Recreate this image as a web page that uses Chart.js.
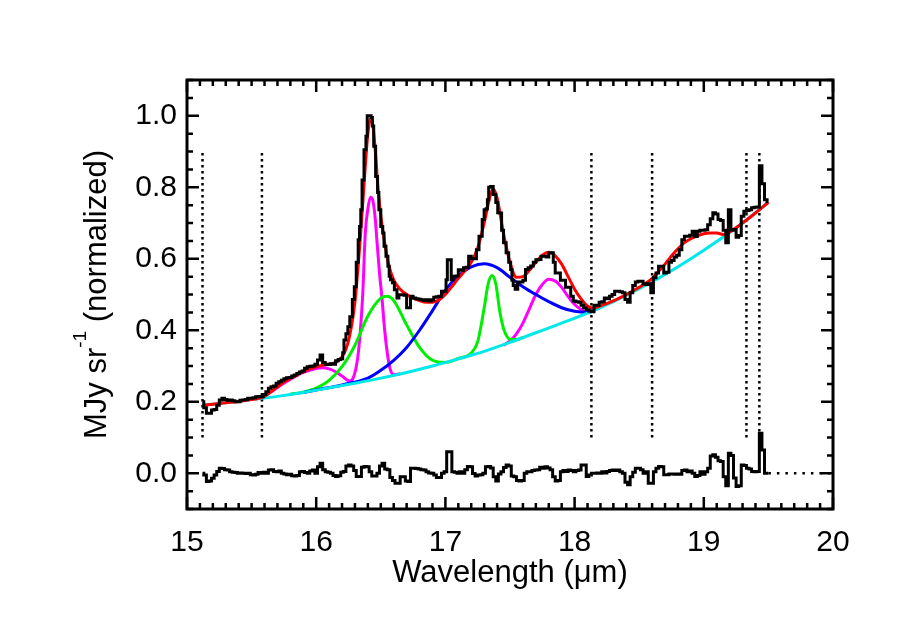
<!DOCTYPE html>
<html>
<head>
<meta charset="utf-8">
<script src="https://cdn.jsdelivr.net/npm/chart.js@4.4.0/dist/chart.umd.min.js"></script>
<style>
  html, body { margin: 0; padding: 0; background: #fff; }
  #wrap { width: 900px; height: 643px; }
</style>
</head>
<body>
<div id="wrap"><canvas id="chartCanvas" width="900" height="643"></canvas></div>
<script>
// Ticks y rótulos
const xTicks = [15, 16, 17, 18, 19, 20];
const yTicks = [0.0, 0.2, 0.4, 0.6, 0.8, 1.0];
const xTitulo = 'Wavelength (\u03bcm)';
const yTituloBase = 'MJy sr';
const yTituloSup = '-1';
const yTituloResto = ' (normalized)';

// Espectro observado
const wlSpec = [
  15.12, 15.14, 15.16, 15.18, 15.20, 15.22, 15.24, 15.26, 15.28, 15.30,
  15.32, 15.34, 15.36, 15.38, 15.40, 15.42, 15.44, 15.46, 15.48, 15.50,
  15.52, 15.54, 15.56, 15.58, 15.60, 15.62, 15.64, 15.66, 15.68, 15.70,
  15.72, 15.74, 15.76, 15.78, 15.80, 15.82, 15.84, 15.86, 15.88, 15.90,
  15.92, 15.94, 15.96, 15.98, 16.00, 16.02, 16.04, 16.06, 16.08, 16.10,
  16.12, 16.14, 16.16, 16.18, 16.20, 16.21, 16.22, 16.24, 16.25, 16.27,
  16.29, 16.30, 16.32, 16.33, 16.34, 16.35, 16.36, 16.38, 16.39, 16.40,
  16.42, 16.43, 16.44, 16.45, 16.47, 16.48, 16.49, 16.51, 16.52, 16.53,
  16.55, 16.56, 16.57, 16.58, 16.60, 16.61, 16.62, 16.63, 16.65, 16.67,
  16.69, 16.71, 16.72, 16.74, 16.76, 16.78, 16.80, 16.82, 16.84, 16.86,
  16.88, 16.90, 16.92, 16.94, 16.96, 16.98, 17.00, 17.01, 17.02, 17.04,
  17.05, 17.07, 17.09, 17.11, 17.13, 17.15, 17.17, 17.19, 17.21, 17.23,
  17.25, 17.27, 17.28, 17.29, 17.31, 17.32, 17.33, 17.34, 17.36, 17.38,
  17.40, 17.41, 17.43, 17.44, 17.46, 17.48, 17.50, 17.51, 17.52, 17.53,
  17.55, 17.57, 17.59, 17.61, 17.63, 17.65, 17.67, 17.69, 17.71, 17.73,
  17.75, 17.77, 17.79, 17.81, 17.83, 17.84, 17.86, 17.88, 17.90, 17.92,
  17.94, 17.96, 17.98, 18.00, 18.02, 18.04, 18.06, 18.08, 18.10, 18.12,
  18.14, 18.16, 18.18, 18.20, 18.22, 18.24, 18.26, 18.28, 18.30, 18.32,
  18.34, 18.36, 18.38, 18.40, 18.42, 18.44, 18.46, 18.48, 18.50, 18.52,
  18.54, 18.56, 18.58, 18.60, 18.62, 18.64, 18.66, 18.68, 18.70, 18.72,
  18.74, 18.76, 18.78, 18.80, 18.82, 18.84, 18.86, 18.88, 18.90, 18.92,
  18.94, 18.96, 18.98, 19.00, 19.02, 19.04, 19.06, 19.08, 19.10, 19.12,
  19.14, 19.16, 19.18, 19.20, 19.22, 19.24, 19.26, 19.28, 19.30, 19.32,
  19.34, 19.36, 19.38, 19.40, 19.42, 19.44, 19.46, 19.48, 19.50
];
const fluxSpec = [
  0.200, 0.183, 0.168, 0.168, 0.177, 0.178, 0.190, 0.205, 0.210, 0.206,
  0.204, 0.205, 0.203, 0.200, 0.200, 0.204, 0.205, 0.206, 0.210, 0.210,
  0.211, 0.214, 0.215, 0.214, 0.220, 0.228, 0.238, 0.242, 0.244, 0.252,
  0.256, 0.260, 0.264, 0.267, 0.268, 0.272, 0.275, 0.279, 0.283, 0.286,
  0.294, 0.298, 0.299, 0.300, 0.305, 0.317, 0.331, 0.310, 0.305, 0.304,
  0.306, 0.305, 0.315, 0.318, 0.320, 0.337, 0.373, 0.390, 0.410, 0.438,
  0.486, 0.522, 0.590, 0.653, 0.690, 0.737, 0.820, 0.905, 0.943, 1.000,
  1.000, 0.995, 0.971, 0.915, 0.830, 0.785, 0.737, 0.690, 0.672, 0.635,
  0.607, 0.579, 0.551, 0.541, 0.533, 0.513, 0.513, 0.490, 0.499, 0.499,
  0.498, 0.463, 0.463, 0.495, 0.490, 0.488, 0.487, 0.485, 0.483, 0.485,
  0.482, 0.485, 0.492, 0.494, 0.495, 0.509, 0.509, 0.541, 0.597, 0.597,
  0.541, 0.551, 0.552, 0.569, 0.568, 0.575, 0.576, 0.607, 0.600, 0.600,
  0.625, 0.663, 0.663, 0.710, 0.737, 0.740, 0.765, 0.800, 0.802, 0.780,
  0.757, 0.729, 0.728, 0.680, 0.645, 0.617, 0.590, 0.570, 0.540, 0.525,
  0.515, 0.535, 0.535, 0.540, 0.570, 0.575, 0.580, 0.590, 0.597, 0.598,
  0.607, 0.607, 0.605, 0.617, 0.617, 0.590, 0.560, 0.560, 0.540, 0.540,
  0.520, 0.520, 0.495, 0.482, 0.480, 0.478, 0.470, 0.463, 0.457, 0.453,
  0.452, 0.470, 0.470, 0.478, 0.480, 0.490, 0.488, 0.495, 0.500, 0.509,
  0.509, 0.508, 0.505, 0.486, 0.478, 0.505, 0.525, 0.535, 0.537, 0.537,
  0.530, 0.528, 0.530, 0.505, 0.547, 0.560, 0.579, 0.579, 0.560, 0.562,
  0.590, 0.595, 0.605, 0.610, 0.625, 0.653, 0.663, 0.663, 0.666, 0.677,
  0.662, 0.677, 0.680, 0.680, 0.681, 0.695, 0.712, 0.729, 0.725, 0.710,
  0.707, 0.680, 0.645, 0.737, 0.680, 0.682, 0.660, 0.665, 0.719, 0.733,
  0.735, 0.737, 0.743, 0.744, 0.745, 0.860, 0.810, 0.765, 0.760
];

// Residuos (espectro - ajuste)
const wlRes = [
  15.12, 15.14, 15.16, 15.18, 15.20, 15.22, 15.24, 15.26, 15.28, 15.30,
  15.32, 15.34, 15.36, 15.38, 15.40, 15.42, 15.44, 15.46, 15.48, 15.50,
  15.52, 15.54, 15.56, 15.58, 15.60, 15.62, 15.64, 15.66, 15.68, 15.70,
  15.72, 15.74, 15.76, 15.78, 15.80, 15.82, 15.84, 15.86, 15.88, 15.90,
  15.92, 15.94, 15.96, 15.98, 16.00, 16.02, 16.04, 16.06, 16.08, 16.10,
  16.12, 16.14, 16.16, 16.18, 16.20, 16.22, 16.24, 16.26, 16.28, 16.30,
  16.32, 16.34, 16.36, 16.38, 16.40, 16.42, 16.44, 16.46, 16.48, 16.50,
  16.52, 16.54, 16.56, 16.58, 16.60, 16.62, 16.64, 16.66, 16.68, 16.70,
  16.72, 16.74, 16.76, 16.78, 16.80, 16.82, 16.84, 16.86, 16.88, 16.90,
  16.92, 16.94, 16.96, 16.98, 17.00, 17.02, 17.04, 17.06, 17.08, 17.10,
  17.12, 17.14, 17.16, 17.18, 17.20, 17.22, 17.24, 17.26, 17.28, 17.30,
  17.32, 17.34, 17.36, 17.38, 17.40, 17.42, 17.44, 17.46, 17.48, 17.50,
  17.52, 17.54, 17.56, 17.58, 17.60, 17.62, 17.64, 17.66, 17.68, 17.70,
  17.72, 17.74, 17.76, 17.78, 17.80, 17.82, 17.84, 17.86, 17.88, 17.90,
  17.92, 17.94, 17.96, 17.98, 18.00, 18.02, 18.04, 18.06, 18.08, 18.10,
  18.12, 18.14, 18.16, 18.18, 18.20, 18.22, 18.24, 18.26, 18.28, 18.30,
  18.32, 18.34, 18.36, 18.38, 18.40, 18.42, 18.44, 18.46, 18.48, 18.50,
  18.52, 18.54, 18.56, 18.58, 18.60, 18.62, 18.64, 18.66, 18.68, 18.70,
  18.72, 18.74, 18.76, 18.78, 18.80, 18.82, 18.84, 18.86, 18.88, 18.90,
  18.92, 18.94, 18.96, 18.98, 19.00, 19.02, 19.04, 19.06, 19.08, 19.10,
  19.12, 19.14, 19.16, 19.18, 19.20, 19.22, 19.24, 19.26, 19.28, 19.30,
  19.32, 19.34, 19.36, 19.38, 19.40, 19.42, 19.44, 19.46, 19.48, 19.50
];
const residuo = [
  0.000, -0.005, -0.023, -0.022, -0.014, -0.005, 0.005, 0.014, 0.013, 0.010,
  0.009, 0.004, 0.003, 0.002, 0.000, 0.001, 0.000, -0.001, 0.000, -0.004,
  -0.005, -0.003, 0.002, 0.000, 0.003, 0.000, 0.009, 0.010, 0.005, 0.004,
  0.006, 0.000, -0.002, -0.004, -0.003, -0.007, -0.008, -0.006, 0.004, 0.005,
  0.002, 0.000, 0.006, 0.009, 0.000, 0.018, 0.028, 0.010, 0.004, 0.003,
  0.000, -0.006, -0.009, -0.007, 0.003, 0.005, 0.020, 0.023, 0.020, 0.008,
  -0.009, -0.009, 0.017, 0.019, 0.018, 0.004, -0.008, -0.008, 0.000, 0.020,
  0.028, 0.012, 0.010, -0.012, -0.020, -0.028, -0.028, -0.010, -0.010, -0.022,
  -0.023, 0.014, 0.014, 0.013, 0.012, 0.010, 0.009, 0.004, 0.001, 0.000,
  -0.005, -0.012, -0.012, 0.000, 0.004, 0.060, 0.060, 0.004, 0.003, 0.000,
  0.004, 0.000, 0.010, 0.019, 0.018, -0.001, -0.008, -0.005, -0.004, 0.000,
  0.018, 0.019, 0.015, -0.010, -0.022, -0.002, 0.004, 0.016, 0.023, 0.020,
  -0.008, -0.010, -0.020, -0.022, -0.020, 0.000, 0.004, 0.004, 0.008, 0.009,
  0.010, 0.017, 0.014, 0.018, 0.015, 0.010, -0.010, -0.022, -0.020, 0.004,
  0.008, 0.005, 0.009, 0.008, 0.004, 0.008, 0.009, 0.023, 0.023, -0.009,
  -0.005, 0.000, 0.000, 0.001, 0.000, 0.004, 0.001, 0.005, 0.008, 0.009,
  0.008, 0.009, 0.004, 0.000, -0.025, -0.032, -0.010, 0.003, 0.014, 0.014,
  0.010, 0.000, 0.004, -0.028, -0.028, 0.004, 0.014, 0.019, 0.018, -0.004,
  -0.004, -0.002, -0.002, -0.003, -0.002, -0.003, 0.008, 0.009, 0.004, 0.006,
  0.000, -0.009, -0.006, 0.004, -0.003, 0.004, 0.014, 0.048, 0.052, 0.045,
  0.035, 0.033, -0.010, -0.035, 0.056, 0.050, -0.013, -0.037, -0.035, 0.023,
  0.022, 0.014, 0.012, 0.005, 0.004, 0.005, 0.112, 0.065, 0.000, 0.000
];

// Ajuste total (rojo)
const wlFit = [
  15.12, 15.20, 15.30, 15.40, 15.50, 15.55, 15.60, 15.65, 15.70, 15.75,
  15.80, 15.85, 15.90, 15.95, 16.00, 16.05, 16.10, 16.15, 16.20, 16.25,
  16.30, 16.35, 16.38, 16.40, 16.42, 16.44, 16.46, 16.48, 16.50, 16.53,
  16.56, 16.60, 16.65, 16.70, 16.75, 16.80, 16.85, 16.90, 16.95, 17.00,
  17.05, 17.10, 17.15, 17.20, 17.25, 17.30, 17.35, 17.37, 17.40, 17.45,
  17.50, 17.55, 17.60, 17.65, 17.70, 17.75, 17.80, 17.85, 17.90, 17.95,
  18.00, 18.05, 18.10, 18.15, 18.20, 18.30, 18.40, 18.50, 18.60, 18.65,
  18.70, 18.75, 18.80, 18.85, 18.90, 18.95, 19.00, 19.05, 19.10, 19.15,
  19.20, 19.30, 19.40, 19.50
];
const ajuste = [
  0.190, 0.193, 0.197, 0.201, 0.206, 0.209, 0.215, 0.228, 0.242, 0.255,
  0.265, 0.275, 0.284, 0.292, 0.298, 0.302, 0.305, 0.310, 0.325, 0.370,
  0.480, 0.700, 0.860, 0.950, 0.990, 0.970, 0.890, 0.790, 0.720, 0.645,
  0.585, 0.540, 0.515, 0.500, 0.490, 0.483, 0.478, 0.478, 0.485, 0.500,
  0.522, 0.545, 0.566, 0.590, 0.630, 0.700, 0.780, 0.795, 0.770, 0.670,
  0.590, 0.548, 0.550, 0.568, 0.590, 0.610, 0.618, 0.608, 0.585, 0.550,
  0.515, 0.488, 0.468, 0.462, 0.468, 0.482, 0.500, 0.520, 0.545, 0.565,
  0.585, 0.608, 0.628, 0.645, 0.656, 0.664, 0.670, 0.672, 0.672, 0.668,
  0.675, 0.700, 0.728, 0.758
];

// Continuo (cian)
const wlCont = [15.12, 15.3, 15.5, 15.7, 15.9, 16.1, 16.3, 16.5, 16.7, 16.9, 17.1, 17.3,
  17.5, 17.7, 17.9, 18.1, 18.3, 18.5, 18.7, 18.9, 19.1, 19.3, 19.5];
const continuo = [0.190, 0.197, 0.206, 0.215, 0.226, 0.239, 0.252, 0.266, 0.282, 0.300, 0.320, 0.341,
  0.366, 0.393, 0.420, 0.448, 0.480, 0.516, 0.556, 0.600, 0.648, 0.700, 0.758];

// Componente ancha (azul)
const wlAzul = [15.9, 16.0, 16.2, 16.4, 16.5, 16.6, 16.7, 16.8, 16.9, 17.0, 17.1, 17.2,
  17.3, 17.4, 17.5, 17.6, 17.7, 17.8, 17.9, 18.0, 18.1, 18.2];
const azul = [0.226, 0.233, 0.247, 0.266, 0.288, 0.316, 0.352, 0.400, 0.455, 0.512, 0.552, 0.577,
  0.586, 0.575, 0.548, 0.522, 0.500, 0.480, 0.463, 0.453, 0.450, 0.464];

// Componentes verdes
const wlVerde = [15.8, 15.9, 16.0, 16.1, 16.2, 16.3, 16.4, 16.5, 16.55, 16.6,
  16.7, 16.8, 16.9, 17.0, 17.1, 17.2, 17.25, 17.3, 17.33, 17.36,
  17.39, 17.42, 17.45, 17.5, 17.55, 17.6];
const verde = [0.221, 0.227, 0.238, 0.260, 0.298, 0.358, 0.440, 0.490, 0.495, 0.483,
  0.415, 0.352, 0.316, 0.310, 0.321, 0.336, 0.368, 0.462, 0.528, 0.553,
  0.530, 0.455, 0.405, 0.375, 0.374, 0.380];

// Componentes magenta
const wlMag1 = [15.6, 15.7, 15.8, 15.9, 16.0, 16.05, 16.1, 16.15, 16.2, 16.26,
  16.29, 16.32, 16.34, 16.36, 16.38, 16.40, 16.42, 16.44, 16.46, 16.47,
  16.49, 16.51, 16.53, 16.55, 16.57, 16.60, 16.65];
const mag1 = [0.215, 0.240, 0.263, 0.282, 0.293, 0.295, 0.292, 0.284, 0.272, 0.258,
  0.270, 0.320, 0.390, 0.500, 0.672, 0.740, 0.772, 0.760, 0.700, 0.650,
  0.560, 0.486, 0.400, 0.337, 0.295, 0.276, 0.278];
const wlMag2 = [17.45, 17.5, 17.55, 17.6, 17.65, 17.7, 17.75, 17.8, 17.85, 17.9,
  17.95, 18.0, 18.05, 18.1, 18.15];
const mag2 = [0.358, 0.370, 0.390, 0.420, 0.460, 0.500, 0.528, 0.543, 0.538, 0.520,
  0.494, 0.472, 0.458, 0.452, 0.455];

// Límites de las ventanas (líneas punteadas)
const wlMarcas = [15.12, 15.58, 18.13, 18.60, 19.33, 19.43];
const yMarcas = [0.1, 0.9];
const wlCero = [19.5, 20.0];

const fuente = '"Liberation Sans", Helvetica, Arial, sans-serif';
const pts = (xs, ys) => xs.map((x, i) => ({ x: x, y: ys[i] }));

function curva(xs, ys, color, orden) {
  return {
    data: pts(xs, ys),
    borderColor: color,
    borderWidth: 3,
    cubicInterpolationMode: 'monotone',
    order: orden
  };
}

const datasets = [
  { data: pts(wlSpec, fluxSpec), borderColor: '#000', borderWidth: 3, stepped: 'middle', order: 0 },
  { data: pts(wlRes, residuo), borderColor: '#000', borderWidth: 3, stepped: 'middle', order: 0 },
  curva(wlFit, ajuste, '#ff0000', 1),
  curva(wlCont, continuo, '#00e8ea', 2),
  curva(wlAzul, azul, '#0000ff', 3),
  curva(wlVerde, verde, '#00ee00', 3),
  curva(wlMag1, mag1, '#ff00ff', 3),
  curva(wlMag2, mag2, '#ff00ff', 3),
  { data: wlCero.map(x => ({ x: x, y: 0 })), borderColor: '#000', borderWidth: 2.5, borderDash: [2.5, 6], order: 5 }
];
wlMarcas.forEach(w => {
  datasets.push({
    data: yMarcas.map(v => ({ x: w, y: v })),
    borderColor: '#000', borderWidth: 2.5, borderDash: [2.5, 3.5], order: 5
  });
});

// Marco y ticks hacia adentro (estilo IDL)
const ejesIDL = {
  id: 'ejesIDL',
  afterDatasetsDraw(chart) {
    const { ctx, chartArea: a, scales: { x, y } } = chart;
    ctx.save();
    ctx.strokeStyle = '#000';
    ctx.lineWidth = 2.5;
    ctx.beginPath();
    const nx = Math.round((x.max - x.min) / 0.1);
    for (let i = 0; i <= nx; i++) {
      const px = x.getPixelForValue(x.min + i * 0.1);
      const largo = (i % 10 === 0) ? 12 : 6;
      ctx.moveTo(px, a.bottom); ctx.lineTo(px, a.bottom - largo);
      ctx.moveTo(px, a.top); ctx.lineTo(px, a.top + largo);
    }
    const ny = Math.round((y.max - y.min) / 0.05);
    for (let i = 0; i <= ny; i++) {
      const v = y.min + i * 0.05;
      const py = y.getPixelForValue(v);
      const mayor = yTicks.some(t => Math.abs(t - v) < 1e-6);
      const largo = mayor ? 12 : 6;
      ctx.moveTo(a.left, py); ctx.lineTo(a.left + largo, py);
      ctx.moveTo(a.right, py); ctx.lineTo(a.right - largo, py);
    }
    ctx.stroke();
    ctx.lineWidth = 3;
    ctx.strokeRect(a.left, a.top, a.right - a.left, a.bottom - a.top);
    ctx.restore();
  }
};

// Título del eje Y con superíndice
const tituloY = {
  id: 'tituloY',
  afterDraw(chart) {
    const { ctx, chartArea: a } = chart;
    const base = '31px ' + fuente;
    const sup = '19px ' + fuente;
    ctx.save();
    ctx.translate(106, (a.top + a.bottom) / 2);
    ctx.rotate(-Math.PI / 2);
    ctx.fillStyle = '#000';
    ctx.textAlign = 'left';
    ctx.textBaseline = 'alphabetic';
    ctx.font = base;
    const w1 = ctx.measureText(yTituloBase).width;
    const w3 = ctx.measureText(yTituloResto).width;
    ctx.font = sup;
    const w2 = ctx.measureText(yTituloSup).width;
    let px = -(w1 + w2 + w3) / 2;
    ctx.font = base;
    ctx.fillText(yTituloBase, px, 0);
    px += w1;
    ctx.font = sup;
    ctx.fillText(yTituloSup, px, -20);
    px += w2;
    ctx.font = base;
    ctx.fillText(yTituloResto, px, 0);
    ctx.restore();
  }
};

const ctx = document.getElementById('chartCanvas').getContext('2d');
new Chart(ctx, {
  type: 'scatter',
  data: { datasets: datasets },
  options: {
    responsive: false,
    animation: false,
    devicePixelRatio: 1,
    showLine: true,
    layout: { padding: { top: 80, right: 67, left: 0, bottom: 0 } },
    elements: { point: { radius: 0, hoverRadius: 0 }, line: { tension: 0, fill: false } },
    plugins: { legend: { display: false }, tooltip: { enabled: false } },
    scales: {
      x: {
        type: 'linear',
        min: 15,
        max: 20,
        afterFit: s => { s.height = 134; },
        afterBuildTicks: s => { s.ticks = xTicks.map(v => ({ value: v })); },
        grid: { display: false, drawTicks: false },
        border: { display: false },
        ticks: {
          color: '#000',
          font: { family: fuente, size: 30 },
          padding: 16,
          maxRotation: 0,
          autoSkip: false,
          callback: v => String(v)
        },
        title: {
          display: true,
          text: xTitulo,
          color: '#000',
          font: { family: fuente, size: 31 },
          padding: { top: 0, bottom: 51 }
        }
      },
      y: {
        type: 'linear',
        min: -0.1,
        max: 1.1,
        afterFit: s => { s.width = 187; },
        afterBuildTicks: s => { s.ticks = yTicks.map(v => ({ value: v })); },
        grid: { display: false, drawTicks: false },
        border: { display: false },
        ticks: {
          color: '#000',
          font: { family: fuente, size: 30 },
          padding: 10,
          autoSkip: false,
          callback: v => v.toFixed(1)
        }
      }
    }
  },
  plugins: [ejesIDL, tituloY]
});
</script>
</body>
</html>
